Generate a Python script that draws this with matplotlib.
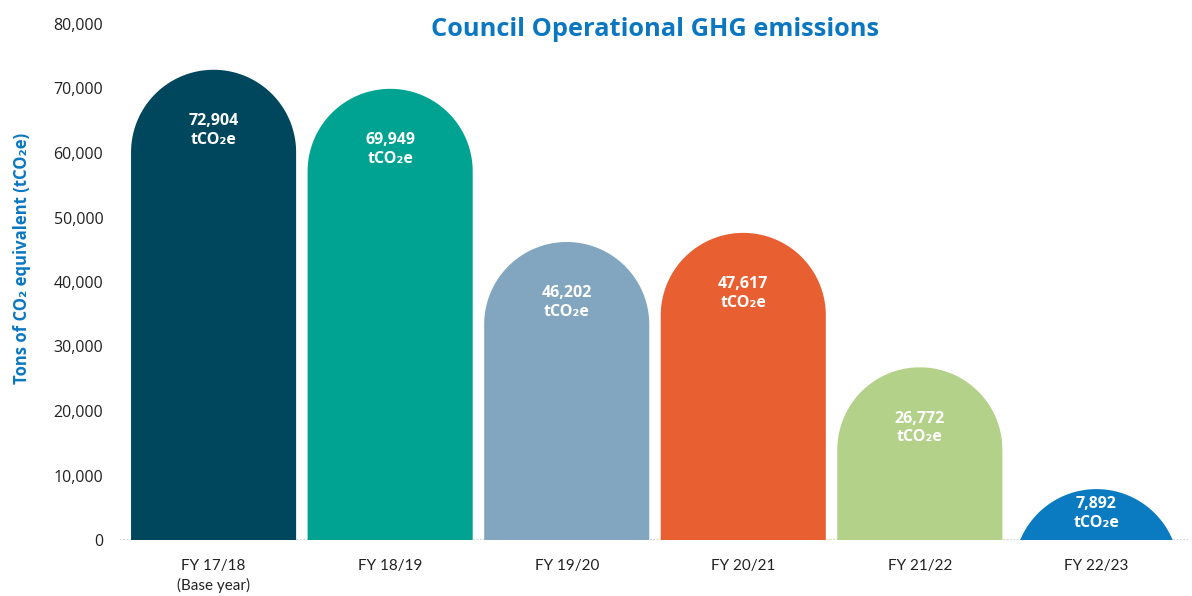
import matplotlib.pyplot as plt
from matplotlib.patches import Polygon
import numpy as np

plt.rcParams['font.family'] = ['Open Sans', 'DejaVu Sans']

categories = ["FY 17/18\n(Base year)", "FY 18/19", "FY 19/20", "FY 20/21", "FY 21/22", "FY 22/23"]
emissions = [72904, 69949, 46202, 47617, 26772, 7892]
colors = ["#00475e", "#00a391", "#83a6c0", "#e86031", "#b3d189", "#0a7bc1"]
yticks = [0, 10000, 20000, 30000, 40000, 50000, 60000, 70000, 80000]

BLUE = "#0a77c0"
BAR_W = 0.935


def rounded_bar(ax, x, h, color, ry):
    """Barre avec un sommet en demi-cercle (en pixels)."""
    rx = BAR_W / 2
    cy = h - ry
    t = np.linspace(np.pi, 0, 100)
    arc = np.column_stack([x + rx * np.cos(t), cy + ry * np.sin(t)])
    base = min(0, cy)
    pts = np.vstack([[x - rx, base], arc, [x + rx, base]])
    ax.add_patch(Polygon(pts, closed=True, facecolor=color, edgecolor="none", zorder=3))


def main():
    fig = plt.figure(figsize=(11.92, 5.96), dpi=100)
    ax = fig.add_axes([120 / 1192, 56 / 596, 1070 / 1192, 516 / 596])
    ax.set_xlim(-0.53, 5.53)
    ax.set_ylim(0, 80000)

    # rayon vertical en unités de données pour un demi-cercle à l'écran
    p0 = ax.transData.transform((0, 0))
    p1 = ax.transData.transform((BAR_W / 2, 1000))
    rx_px = p1[0] - p0[0]
    ry = rx_px / ((p1[1] - p0[1]) / 1000)

    for i, (val, col) in enumerate(zip(emissions, colors)):
        rounded_bar(ax, i, val, col, ry)
        off = min(9400, val * 0.48)
        ax.text(i, val - off, f"{val:,}\ntCO₂e", ha="center", va="center",
                color="white", fontsize=11.5, fontweight="bold", linespacing=1.2,
                zorder=4)

    ax.axhline(0, color="#c8c8c8", linestyle=(0, (1, 1)), lw=1.2, zorder=1)

    for s in ax.spines.values():
        s.set_visible(False)

    ax.set_yticks(yticks)
    ax.set_yticklabels([f"{v:,}" for v in yticks])
    ax.set_xticks(range(len(categories)))
    ax.set_xticklabels(categories, linespacing=1.35, family=["Lato", "DejaVu Sans"])
    ax.tick_params(axis="y", length=0, pad=12, labelsize=11.5, labelcolor="#222222")
    ax.tick_params(axis="x", length=0, pad=14, labelsize=11, labelcolor="#222222")

    ax.set_ylabel("Tons of CO₂ equivalent (tCO₂e)", color=BLUE, fontsize=12,
                  fontweight="bold")
    ax.yaxis.set_label_coords(-0.083, 0.545)

    fig.text(655 / 1192, 1 - 30 / 596, "Council Operational GHG emissions",
             ha="center", va="center", color=BLUE, fontsize=18.3, fontweight="bold")

    fig.savefig("out.png", dpi=100)


if __name__ == "__main__":
    main()
